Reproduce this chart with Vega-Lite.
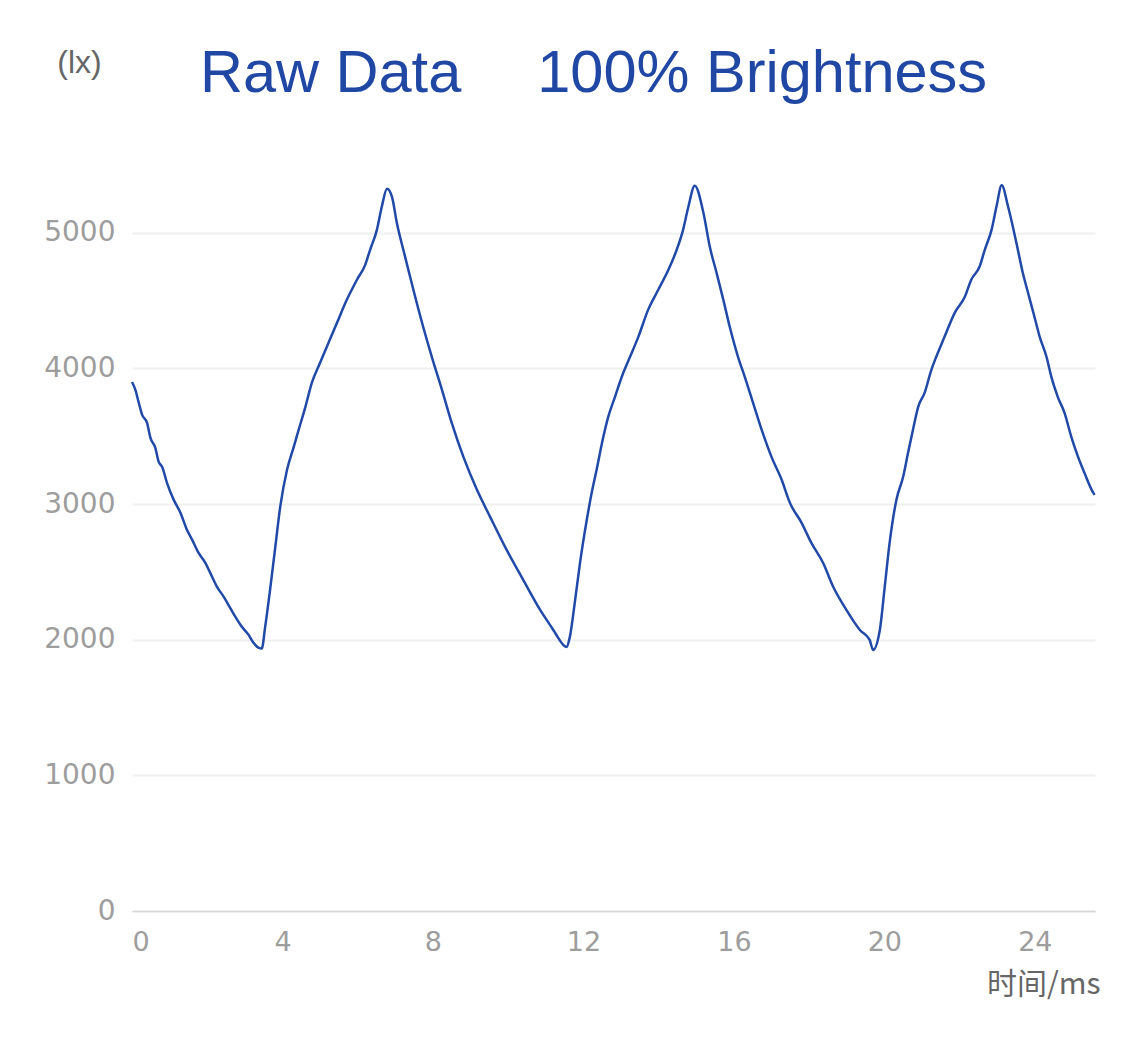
{
  "$schema": "https://vega.github.io/schema/vega-lite/v6.json",
  "autosize": {"type": "none"},
  "padding": {"left": 132, "top": 165, "right": 30, "bottom": 129},
  "width": 963,
  "height": 746,
  "background": "white",
  "title": {
    "text": "Raw Data\u00a0\u00a0\u00a0\u00a0\u2006100% Brightness",
    "font": "Liberation Sans",
    "fontSize": 59.5,
    "fontWeight": "normal",
    "color": "#1f47a3",
    "anchor": "start",
    "frame": "group",
    "baseline": "alphabetic",
    "dx": 68,
    "offset": 0,
    "dy": 105
  },
  "data": {
    "values": [
      {"t": 0.0, "v": 3900}, {"t": 0.09, "v": 3842}, {"t": 0.18, "v": 3747}, {"t": 0.27, "v": 3658},
      {"t": 0.4, "v": 3599}, {"t": 0.49, "v": 3488}, {"t": 0.62, "v": 3415}, {"t": 0.71, "v": 3311},
      {"t": 0.8, "v": 3275}, {"t": 0.93, "v": 3157}, {"t": 1.11, "v": 3031}, {"t": 1.29, "v": 2935},
      {"t": 1.46, "v": 2810}, {"t": 1.6, "v": 2736}, {"t": 1.77, "v": 2640}, {"t": 1.95, "v": 2567},
      {"t": 2.08, "v": 2493}, {"t": 2.26, "v": 2390}, {"t": 2.44, "v": 2316}, {"t": 2.61, "v": 2235},
      {"t": 2.75, "v": 2168}, {"t": 2.92, "v": 2095}, {"t": 3.1, "v": 2036}, {"t": 3.23, "v": 1977},
      {"t": 3.37, "v": 1940}, {"t": 3.45, "v": 1935}, {"t": 3.54, "v": 2095}, {"t": 3.68, "v": 2390},
      {"t": 3.81, "v": 2685}, {"t": 3.94, "v": 2980}, {"t": 4.12, "v": 3252}, {"t": 4.3, "v": 3422},
      {"t": 4.43, "v": 3547}, {"t": 4.61, "v": 3717}, {"t": 4.78, "v": 3894}, {"t": 5.0, "v": 4042},
      {"t": 5.18, "v": 4160}, {"t": 5.45, "v": 4337}, {"t": 5.71, "v": 4506}, {"t": 5.98, "v": 4654},
      {"t": 6.2, "v": 4764}, {"t": 6.33, "v": 4875}, {"t": 6.51, "v": 5022}, {"t": 6.64, "v": 5192},
      {"t": 6.78, "v": 5325}, {"t": 6.91, "v": 5266}, {"t": 7.04, "v": 5074}, {"t": 7.26, "v": 4823},
      {"t": 7.48, "v": 4580}, {"t": 7.71, "v": 4337}, {"t": 7.97, "v": 4086}, {"t": 8.24, "v": 3842},
      {"t": 8.5, "v": 3599}, {"t": 8.81, "v": 3348}, {"t": 9.17, "v": 3105}, {"t": 9.52, "v": 2906},
      {"t": 9.96, "v": 2662}, {"t": 10.4, "v": 2441}, {"t": 10.85, "v": 2220}, {"t": 11.2, "v": 2072},
      {"t": 11.25, "v": 2050}, {"t": 11.55, "v": 1947}, {"t": 11.64, "v": 2021}, {"t": 11.77, "v": 2272},
      {"t": 11.91, "v": 2567}, {"t": 12.09, "v": 2884}, {"t": 12.22, "v": 3083}, {"t": 12.35, "v": 3252},
      {"t": 12.53, "v": 3496}, {"t": 12.66, "v": 3643}, {"t": 12.84, "v": 3791}, {"t": 13.06, "v": 3968},
      {"t": 13.24, "v": 4086}, {"t": 13.46, "v": 4233}, {"t": 13.72, "v": 4432}, {"t": 13.99, "v": 4580},
      {"t": 14.26, "v": 4727}, {"t": 14.48, "v": 4875}, {"t": 14.65, "v": 5022}, {"t": 14.79, "v": 5192},
      {"t": 14.96, "v": 5347}, {"t": 15.19, "v": 5148}, {"t": 15.36, "v": 4897}, {"t": 15.54, "v": 4705},
      {"t": 15.72, "v": 4506}, {"t": 15.89, "v": 4307}, {"t": 16.11, "v": 4086}, {"t": 16.29, "v": 3938},
      {"t": 16.51, "v": 3747}, {"t": 16.74, "v": 3547}, {"t": 17.0, "v": 3348}, {"t": 17.27, "v": 3179},
      {"t": 17.49, "v": 3009}, {"t": 17.8, "v": 2862}, {"t": 18.06, "v": 2714}, {"t": 18.37, "v": 2567},
      {"t": 18.64, "v": 2390}, {"t": 18.99, "v": 2220}, {"t": 19.35, "v": 2072}, {"t": 19.61, "v": 1999},
      {"t": 19.7, "v": 1925}, {"t": 19.88, "v": 2072}, {"t": 20.01, "v": 2390}, {"t": 20.14, "v": 2714},
      {"t": 20.32, "v": 3031}, {"t": 20.5, "v": 3201}, {"t": 20.63, "v": 3378}, {"t": 20.76, "v": 3547},
      {"t": 20.9, "v": 3717}, {"t": 21.07, "v": 3820}, {"t": 21.25, "v": 3990}, {"t": 21.38, "v": 4086},
      {"t": 21.6, "v": 4233}, {"t": 21.87, "v": 4410}, {"t": 22.14, "v": 4528}, {"t": 22.31, "v": 4654},
      {"t": 22.53, "v": 4750}, {"t": 22.67, "v": 4875}, {"t": 22.85, "v": 5022}, {"t": 22.98, "v": 5192},
      {"t": 23.12, "v": 5350}, {"t": 23.29, "v": 5192}, {"t": 23.51, "v": 4927}, {"t": 23.68, "v": 4705},
      {"t": 23.82, "v": 4558}, {"t": 23.99, "v": 4381}, {"t": 24.13, "v": 4233}, {"t": 24.31, "v": 4086},
      {"t": 24.44, "v": 3938}, {"t": 24.61, "v": 3791}, {"t": 24.79, "v": 3673}, {"t": 24.97, "v": 3496},
      {"t": 25.15, "v": 3348}, {"t": 25.32, "v": 3230}, {"t": 25.54, "v": 3090}, {"t": 25.59, "v": 3068}
    ]
  },
  "mark": {"type": "line", "color": "#2049a8", "strokeWidth": 2.5, "interpolate": "monotone"},
  "encoding": {
    "x": {
      "field": "t",
      "type": "quantitative",
      "scale": {"domain": [0, 25.6], "nice": false, "zero": false},
      "axis": {
        "values": [0, 4, 8, 12, 16, 20, 24],
        "format": "d",
        "grid": false,
        "ticks": false,
        "domain": true,
        "domainColor": "#d6d6d6",
        "domainWidth": 1.5,
        "labelFlush": true,
        "labelFont": "DejaVu Sans",
        "labelFontSize": 27,
        "labelColor": "#9d9d9d",
        "labelPadding": 18,
        "title": "时间/ms",
        "titleFont": "Noto Sans CJK SC",
        "titleFontSize": 30,
        "titleFontWeight": "normal",
        "titleColor": "#666666",
        "titleAlign": "right",
        "titleAnchor": null,
        "titleBaseline": "alphabetic",
        "titleX": 968,
        "titleY": 82
      }
    },
    "y": {
      "field": "v",
      "type": "quantitative",
      "scale": {"domain": [0, 5500], "nice": false},
      "axis": {
        "values": [0, 1000, 2000, 3000, 4000, 5000],
        "format": "d",
        "grid": true,
        "gridColor": "#efefef",
        "gridWidth": 2,
        "ticks": false,
        "domain": false,
        "labelFont": "DejaVu Sans",
        "labelFontSize": 28,
        "labelColor": "#9d9d9d",
        "labelPadding": 17,
        "title": "(lx)",
        "titleFont": "Liberation Sans",
        "titleFontSize": 32,
        "titleFontWeight": "normal",
        "titleColor": "#666666",
        "titleAngle": 0,
        "titleAlign": "center",
        "titleBaseline": "alphabetic",
        "titleX": -53,
        "titleY": -93
      }
    }
  },
  "config": {"view": {"stroke": null}}
}
